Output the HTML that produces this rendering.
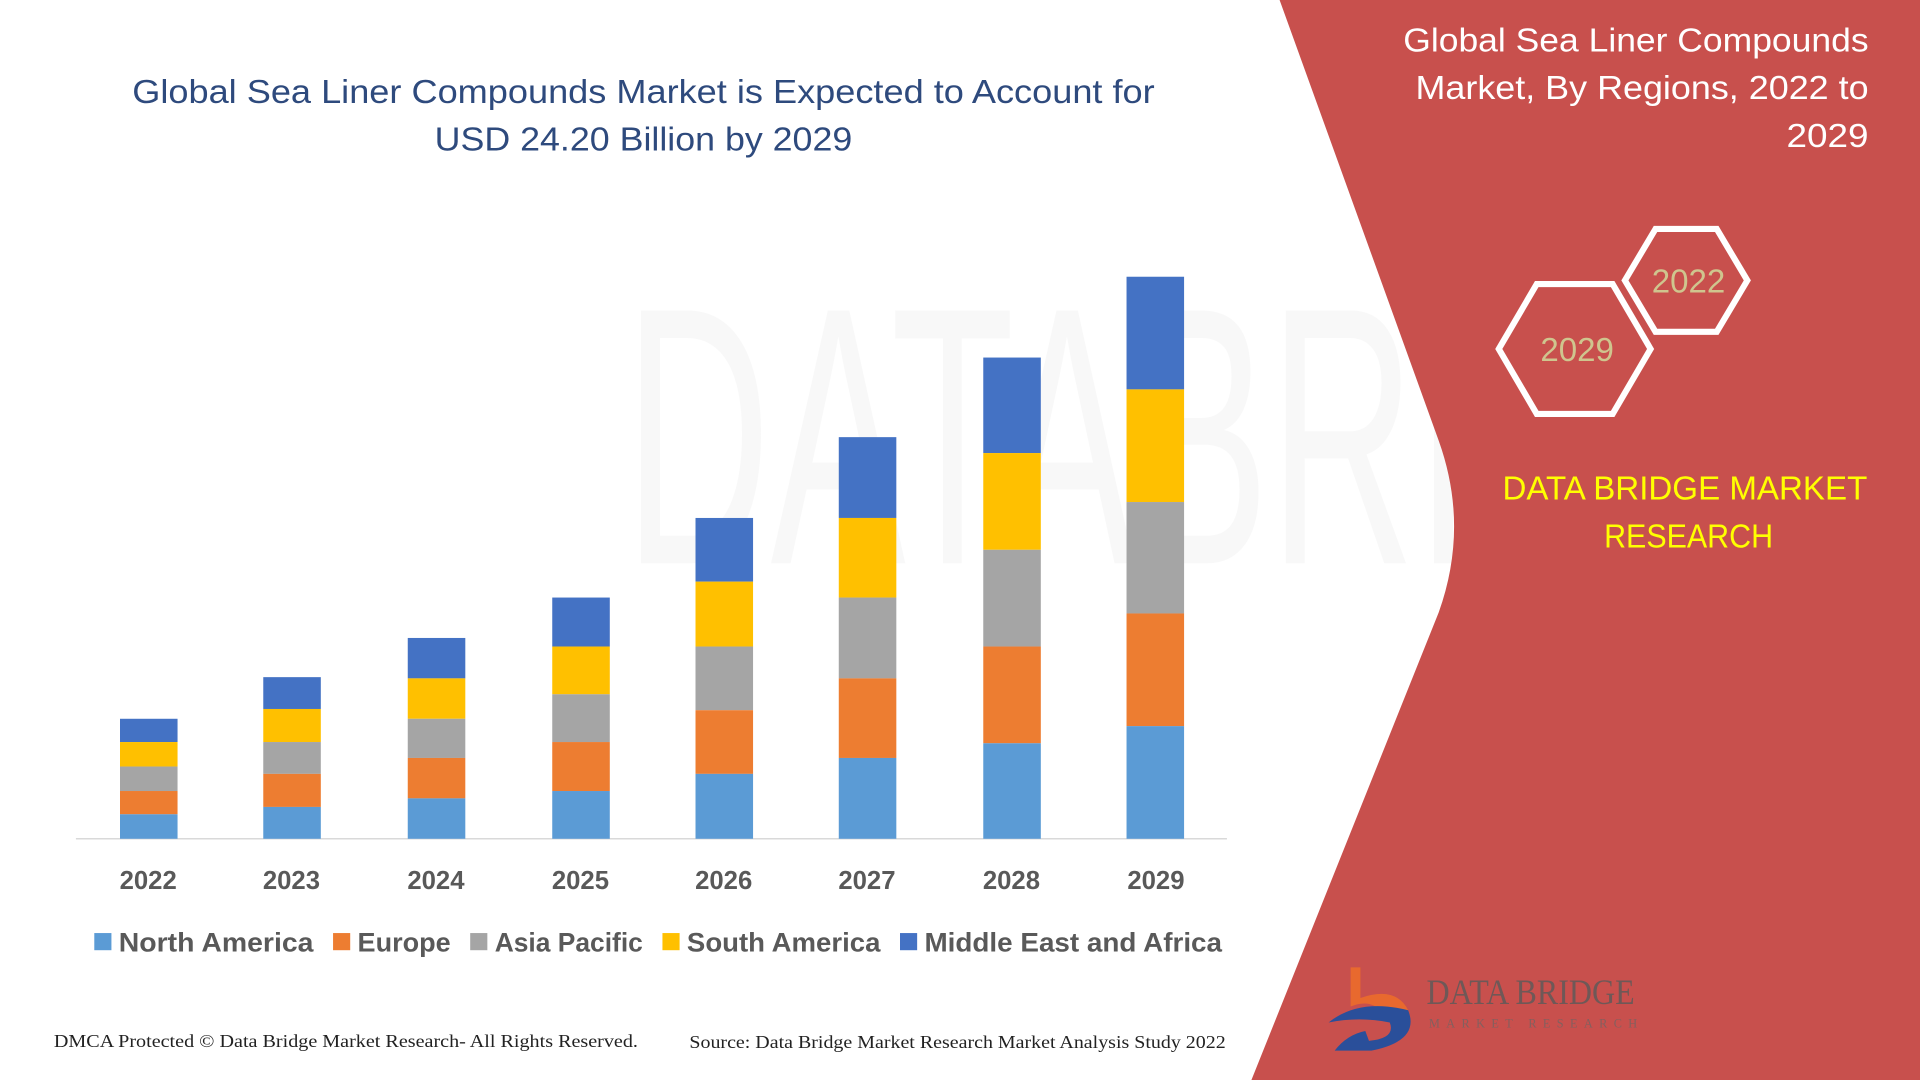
<!DOCTYPE html>
<html><head><meta charset="utf-8"><style>html,body{margin:0;padding:0;background:#fff;overflow:hidden}svg{display:block}</style></head>
<body>
<svg width="1920" height="1080" viewBox="0 0 1568 882" preserveAspectRatio="none" xmlns="http://www.w3.org/2000/svg" font-family="Liberation Sans, DejaVu Sans, sans-serif">
<rect width="1568" height="882" fill="#fff"/>
<g opacity="0.035" fill="#555" font-size="300" font-family="Liberation Sans Narrow, Liberation Sans, sans-serif">
<text x="510" y="460" textLength="1050" lengthAdjust="spacingAndGlyphs">DATABRIDGE</text>
</g>
<path d="M1045 0 L1568 0 L1568 882 L1022 882 L1175 500 Q1200 430 1175 360 Z" fill="#c8504d"/>
<g fill="#2e4a7d" font-size="27">
<text x="108" y="84" textLength="835" lengthAdjust="spacingAndGlyphs">Global Sea Liner Compounds Market is Expected to Account for</text>
<text x="355" y="123" textLength="341" lengthAdjust="spacingAndGlyphs">USD 24.20 Billion by 2029</text>
</g>
<g fill="#fff" font-size="27">
<text x="1146" y="42" textLength="380" lengthAdjust="spacingAndGlyphs">Global Sea Liner Compounds</text>
<text x="1156" y="81" textLength="370" lengthAdjust="spacingAndGlyphs">Market, By Regions, 2022 to</text>
<text x="1459" y="120" textLength="67" lengthAdjust="spacingAndGlyphs">2029</text>
</g>
<polygon points="1327,229 1352,187 1402,187 1427,229 1402,271 1352,271" fill="none" stroke="#fff" stroke-width="5"/>
<polygon points="1224,285 1255,232 1317,232 1348,285 1317,338 1255,338" fill="none" stroke="#fff" stroke-width="5"/>
<g fill="#cfc58e" font-size="27" text-anchor="middle">
<text x="1379" y="239">2022</text>
<text x="1288" y="295">2029</text>
</g>
<g fill="#ffff00" font-size="27">
<text x="1227" y="408" textLength="298" lengthAdjust="spacingAndGlyphs">DATA BRIDGE MARKET</text>
<text x="1310" y="447" textLength="138" lengthAdjust="spacingAndGlyphs">RESEARCH</text>
</g>
<line x1="62" y1="685" x2="1002" y2="685" stroke="#d9d9d9" stroke-width="1.2"/>
<g>
<rect x="98" y="587" width="47" height="19" fill="#4472c4"/><rect x="98" y="606" width="47" height="20" fill="#ffc000"/><rect x="98" y="626" width="47" height="20" fill="#a5a5a5"/><rect x="98" y="646" width="47" height="19" fill="#ed7d31"/><rect x="98" y="665" width="47" height="20" fill="#5b9bd5"/>
<rect x="215" y="553" width="47" height="26" fill="#4472c4"/><rect x="215" y="579" width="47" height="27" fill="#ffc000"/><rect x="215" y="606" width="47" height="26" fill="#a5a5a5"/><rect x="215" y="632" width="47" height="27" fill="#ed7d31"/><rect x="215" y="659" width="47" height="26" fill="#5b9bd5"/>
<rect x="333" y="521" width="47" height="33" fill="#4472c4"/><rect x="333" y="554" width="47" height="33" fill="#ffc000"/><rect x="333" y="587" width="47" height="32" fill="#a5a5a5"/><rect x="333" y="619" width="47" height="33" fill="#ed7d31"/><rect x="333" y="652" width="47" height="33" fill="#5b9bd5"/>
<rect x="451" y="488" width="47" height="40" fill="#4472c4"/><rect x="451" y="528" width="47" height="39" fill="#ffc000"/><rect x="451" y="567" width="47" height="39" fill="#a5a5a5"/><rect x="451" y="606" width="47" height="40" fill="#ed7d31"/><rect x="451" y="646" width="47" height="39" fill="#5b9bd5"/>
<rect x="568" y="423" width="47" height="52" fill="#4472c4"/><rect x="568" y="475" width="47" height="53" fill="#ffc000"/><rect x="568" y="528" width="47" height="52" fill="#a5a5a5"/><rect x="568" y="580" width="47" height="52" fill="#ed7d31"/><rect x="568" y="632" width="47" height="53" fill="#5b9bd5"/>
<rect x="685" y="357" width="47" height="66" fill="#4472c4"/><rect x="685" y="423" width="47" height="65" fill="#ffc000"/><rect x="685" y="488" width="47" height="66" fill="#a5a5a5"/><rect x="685" y="554" width="47" height="65" fill="#ed7d31"/><rect x="685" y="619" width="47" height="66" fill="#5b9bd5"/>
<rect x="803" y="292" width="47" height="78" fill="#4472c4"/><rect x="803" y="370" width="47" height="79" fill="#ffc000"/><rect x="803" y="449" width="47" height="79" fill="#a5a5a5"/><rect x="803" y="528" width="47" height="79" fill="#ed7d31"/><rect x="803" y="607" width="47" height="78" fill="#5b9bd5"/>
<rect x="920" y="226" width="47" height="92" fill="#4472c4"/><rect x="920" y="318" width="47" height="92" fill="#ffc000"/><rect x="920" y="410" width="47" height="91" fill="#a5a5a5"/><rect x="920" y="501" width="47" height="92" fill="#ed7d31"/><rect x="920" y="593" width="47" height="92" fill="#5b9bd5"/>
</g>
<g fill="#595959" font-size="21" font-weight="bold" text-anchor="middle">
<text x="121" y="726">2022</text><text x="238" y="726">2023</text><text x="356" y="726">2024</text><text x="474" y="726">2025</text>
<text x="591" y="726">2026</text><text x="708" y="726">2027</text><text x="826" y="726">2028</text><text x="944" y="726">2029</text>
</g>
<g font-size="22" font-weight="bold" fill="#595959">
<rect x="77" y="762" width="14" height="14" fill="#5b9bd5"/><text x="97" y="777" textLength="159" lengthAdjust="spacingAndGlyphs">North America</text>
<rect x="272" y="762" width="14" height="14" fill="#ed7d31"/><text x="292" y="777" textLength="76" lengthAdjust="spacingAndGlyphs">Europe</text>
<rect x="384" y="762" width="14" height="14" fill="#a5a5a5"/><text x="404" y="777" textLength="121" lengthAdjust="spacingAndGlyphs">Asia Pacific</text>
<rect x="541" y="762" width="14" height="14" fill="#ffc000"/><text x="561" y="777" textLength="158" lengthAdjust="spacingAndGlyphs">South America</text>
<rect x="735" y="762" width="14" height="14" fill="#4472c4"/><text x="755" y="777" textLength="243" lengthAdjust="spacingAndGlyphs">Middle East and Africa</text>
</g>
<g font-family="Liberation Serif, serif" font-size="15" fill="#222">
<text x="44" y="855" textLength="477" lengthAdjust="spacingAndGlyphs">DMCA Protected © Data Bridge Market Research- All Rights Reserved.</text>
<text x="563" y="856" textLength="438" lengthAdjust="spacingAndGlyphs">Source: Data Bridge Market Research Market Analysis Study 2022</text>
</g>
<path d="M1103 790 L1111 790 L1111 815 Q1140 805 1150 825 L1130 828 Q1120 815 1103 822 Z" fill="#e8692e"/>
<path d="M1085 835 Q1110 815 1150 825 Q1160 850 1120 858 L1090 858 Q1100 845 1115 842 L1118 850 Q1140 848 1135 835 Q1110 830 1085 835 Z" fill="#2a4f9a"/>
<text x="1165" y="820" font-family="Liberation Serif, serif" font-size="29" fill="#5a5a5a" opacity="0.8" textLength="170" lengthAdjust="spacingAndGlyphs">DATA BRIDGE</text>
<text x="1167" y="839" font-family="Liberation Serif, serif" font-size="10" fill="#666" opacity="0.7" textLength="170" lengthAdjust="spacing">MARKET RESEARCH</text>
</svg>
</body></html>
